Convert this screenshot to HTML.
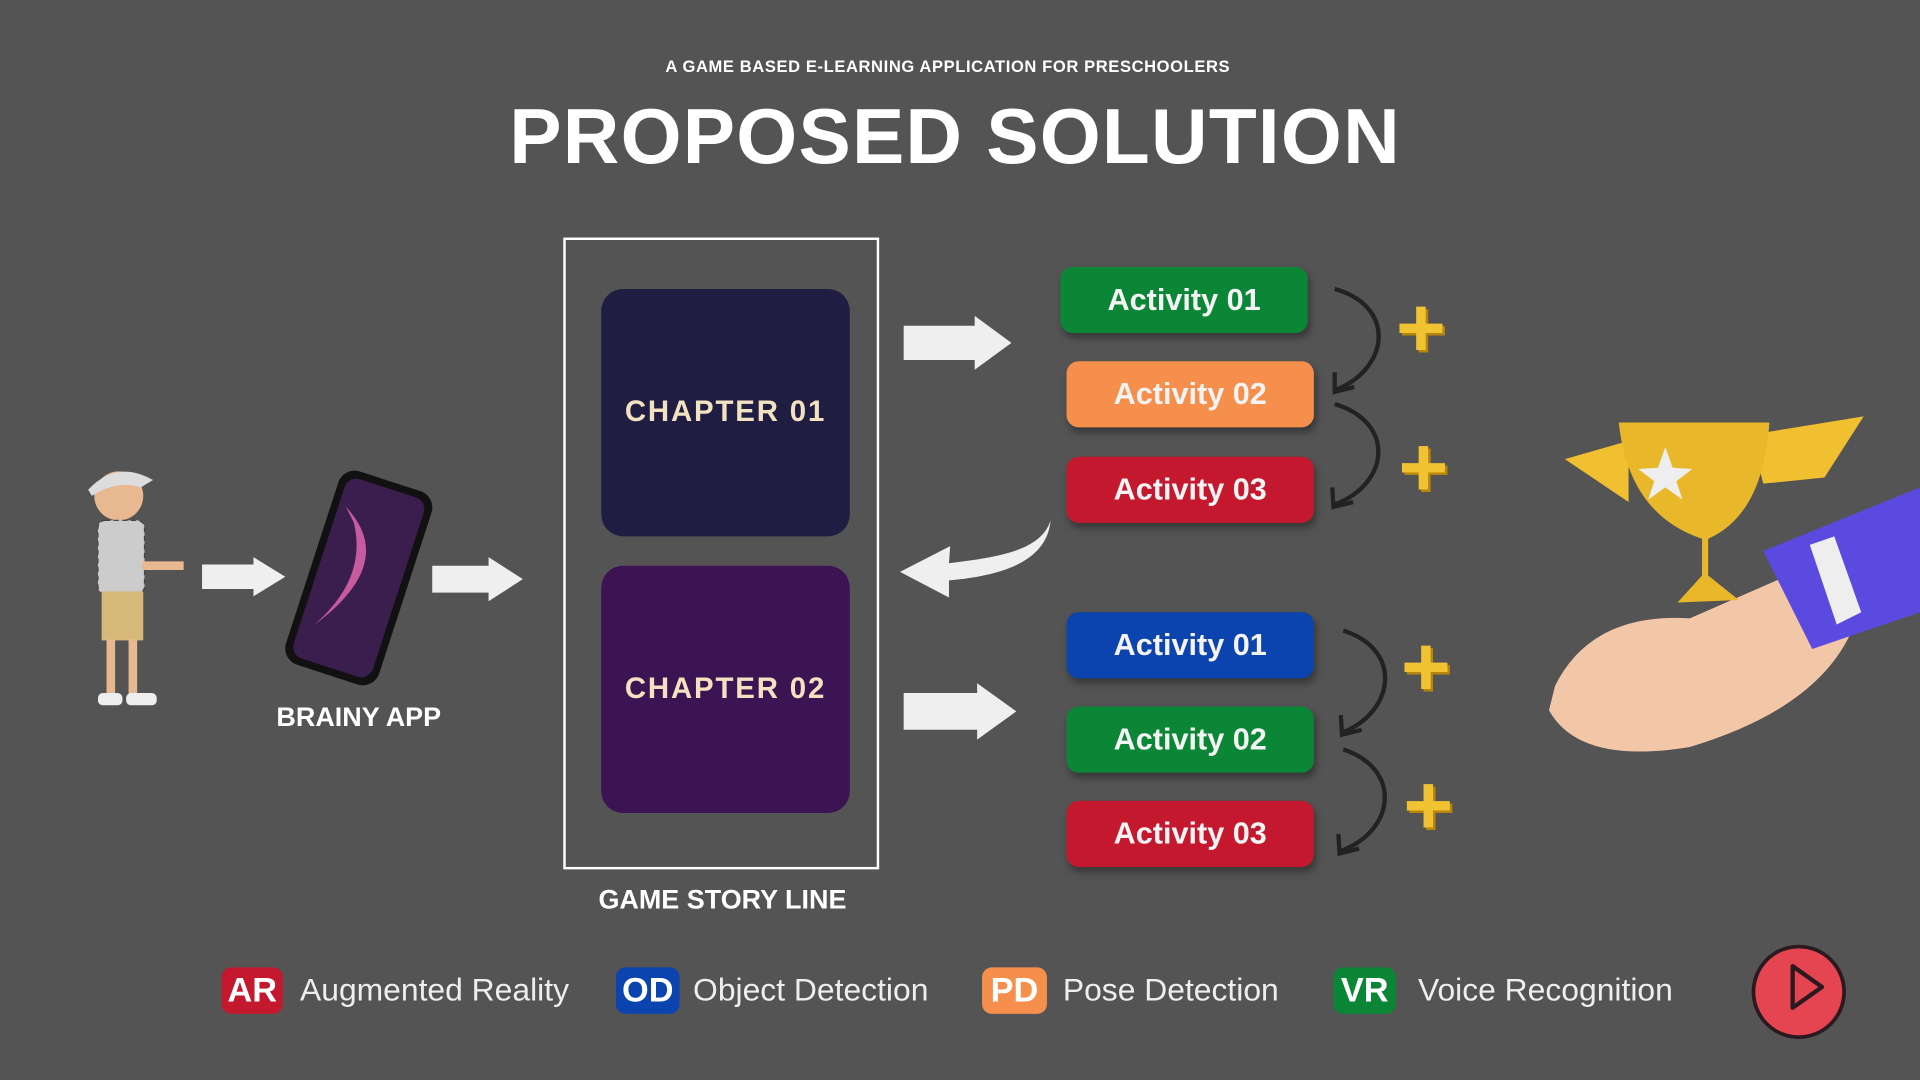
<!DOCTYPE html>
<html><head><meta charset="utf-8"><style>
html,body{margin:0;padding:0;background:#545454;overflow:hidden}
#w{position:absolute;left:0;top:0;width:1568px;height:882px;transform:scale(1.22449);transform-origin:0 0;font-family:"Liberation Sans","DejaVu Sans",sans-serif;color:#fff}
.a{position:absolute}
.ch{position:absolute;left:491px;width:203px;height:202px;border-radius:18px;display:flex;align-items:center;justify-content:center;color:#f3e2c0;font-weight:bold;font-size:24px;letter-spacing:1.5px}
.act{position:absolute;width:202px;height:54px;border-radius:10px;display:flex;align-items:center;justify-content:center;font-weight:bold;font-size:25px;color:#f4f4f4;box-shadow:2px 4px 6px rgba(0,0,0,.35)}
.bd{position:absolute;top:790px;height:38px;border-radius:8px;font-weight:bold;font-size:28px;display:flex;align-items:center;justify-content:center;color:#fff}
.lt{position:absolute;top:793px;font-size:26px;color:#eee}
.plus{position:absolute;font-size:70px;font-weight:bold;color:#f1c232;line-height:1;text-shadow:2px 2px 0 #b8860b}
</style></head><body><div id="w">
<div class="a" style="left:0;width:1548px;top:47px;text-align:center;font-size:13.5px;font-weight:bold;letter-spacing:.5px">A GAME BASED E-LEARNING APPLICATION FOR PRESCHOOLERS</div>
<div class="a" style="left:0;width:1560px;top:74px;text-align:center;font-size:64px;font-weight:bold;letter-spacing:1px">PROPOSED SOLUTION</div>

<div class="a" style="left:460px;top:194px;width:254px;height:512px;border:2px solid #fff"></div>
<div class="ch" style="top:236px;background:#1f1d42">CHAPTER 01</div>
<div class="ch" style="top:462px;background:#3c1453">CHAPTER 02</div>
<div class="a" style="left:440px;width:300px;top:722px;text-align:center;font-size:22px;font-weight:bold">GAME STORY LINE</div>
<div class="a" style="left:193px;width:200px;top:573px;text-align:center;font-size:22px;font-weight:bold">BRAINY APP</div>

<svg class="a" style="left:0;top:0" width="1568" height="882">
<g fill="#efefef">
<polygon points="738,266 796,266 796,258 826,280 796,302 796,294 738,294"/>
<polygon points="738,566 798,566 798,558 830,581 798,604 798,596 738,596"/>
<polygon points="165,461 207,461 207,455 233,471 207,487 207,481 165,481"/>
<polygon points="353,462 399,462 399,455 427,473 399,491 399,484 353,484"/>
<path d="M858,425 C850,450 815,455 775,460 L776,446 L735,467 L775,488 L775,474 C820,470 855,458 858,425Z"/>
</g>
<g fill="none" stroke="#222" stroke-width="3.5">
<path d="M1090,236 C1140,250 1135,300 1092,318"/><path d="M1090,304 L1090,320 L1106,316"/>
<path d="M1090,330 C1140,345 1135,395 1090,412"/><path d="M1088,398 L1089,414 L1105,410"/>
<path d="M1097,515 C1145,530 1140,580 1097,598"/><path d="M1095,584 L1096,600 L1112,596"/>
<path d="M1097,612 C1145,628 1140,678 1095,695"/><path d="M1093,681 L1094,697 L1110,693"/>
</g>
<circle cx="97" cy="405" r="20" fill="#e8b890"/><path d="M72,400 Q95,375 125,392 L115,398 Q95,392 75,405Z" fill="#ddd"/>
<rect x="80" y="425" width="38" height="60" rx="6" fill="#ccc" stroke="#444" stroke-dasharray="4 3"/>
<rect x="83" y="483" width="34" height="40" fill="#d6b878"/>
<rect x="87" y="522" width="7" height="48" fill="#e8b890"/><rect x="105" y="522" width="7" height="48" fill="#e8b890"/>
<rect x="80" y="566" width="20" height="10" rx="4" fill="#eee"/><rect x="103" y="566" width="25" height="10" rx="4" fill="#eee"/>
<path d="M116,462 L150,462" stroke="#e8b890" stroke-width="7"/>
<g transform="rotate(18 293 472)"><rect x="253" y="389" width="80" height="166" rx="14" fill="#111"/>
<rect x="259" y="395" width="68" height="154" rx="10" fill="#3a1e4d"/>
<path d="M265,420 Q320,450 270,520 Q300,470 275,430Z" fill="#c85aa0"/></g>
<path d="M1270,560 Q1300,500 1380,505 L1460,470 Q1520,470 1510,520 Q1480,580 1380,610 Q1290,625 1265,580Z" fill="#f2c7a8"/>
<path d="M1440,450 L1568,398 L1568,500 L1480,530Z" fill="#5b4ae0"/>
<path d="M1478,445 L1500,510 L1520,500 L1498,438Z" fill="#eee"/>
<path d="M1278,375 L1330,360 L1330,410 Z" fill="#f0c030"/><path d="M1430,355 L1522,340 L1490,390 L1440,395Z" fill="#f0c030"/>
<path d="M1322,345 L1445,345 Q1440,420 1395,440 L1395,470 L1420,490 L1370,492 L1390,470 L1390,440 Q1330,420 1322,345Z" fill="#e9b82a"/>
<polygon points="1360,365 1366,382 1382,383 1369,393 1374,408 1360,398 1346,408 1351,393 1338,383 1354,382" fill="#eee"/>
<circle cx="1469" cy="810" r="37" fill="#e54550" stroke="#2a1a1f" stroke-width="3"/>
<path d="M1464,789 L1488,806 L1464,823Z" fill="none" stroke="#2a1a1f" stroke-width="3.5" stroke-linejoin="round"/>
</svg>

<div class="act" style="left:866px;top:218px;background:#0b8637">Activity 01</div>
<div class="act" style="left:871px;top:295px;background:#f68f4b">Activity 02</div>
<div class="act" style="left:871px;top:373px;background:#c3182e">Activity 03</div>
<div class="act" style="left:871px;top:500px;background:#0b44ae">Activity 01</div>
<div class="act" style="left:871px;top:577px;background:#0b8637">Activity 02</div>
<div class="act" style="left:871px;top:654px;background:#c3182e">Activity 03</div>

<div class="plus" style="left:1140px;top:232px">+</div>
<div class="plus" style="left:1142px;top:346px">+</div>
<div class="plus" style="left:1144px;top:509px">+</div>
<div class="plus" style="left:1146px;top:622px">+</div>

<div class="bd" style="left:181px;width:50px;background:#c3182e">AR</div><div class="lt" style="left:245px">Augmented Reality</div>
<div class="bd" style="left:503px;width:52px;background:#0b44ae">OD</div><div class="lt" style="left:566px">Object Detection</div>
<div class="bd" style="left:802px;width:53px;background:#f68f4b">PD</div><div class="lt" style="left:868px">Pose Detection</div>
<div class="bd" style="left:1089px;width:51px;background:#0b8637">VR</div><div class="lt" style="left:1158px">Voice Recognition</div>
</div></body></html>
